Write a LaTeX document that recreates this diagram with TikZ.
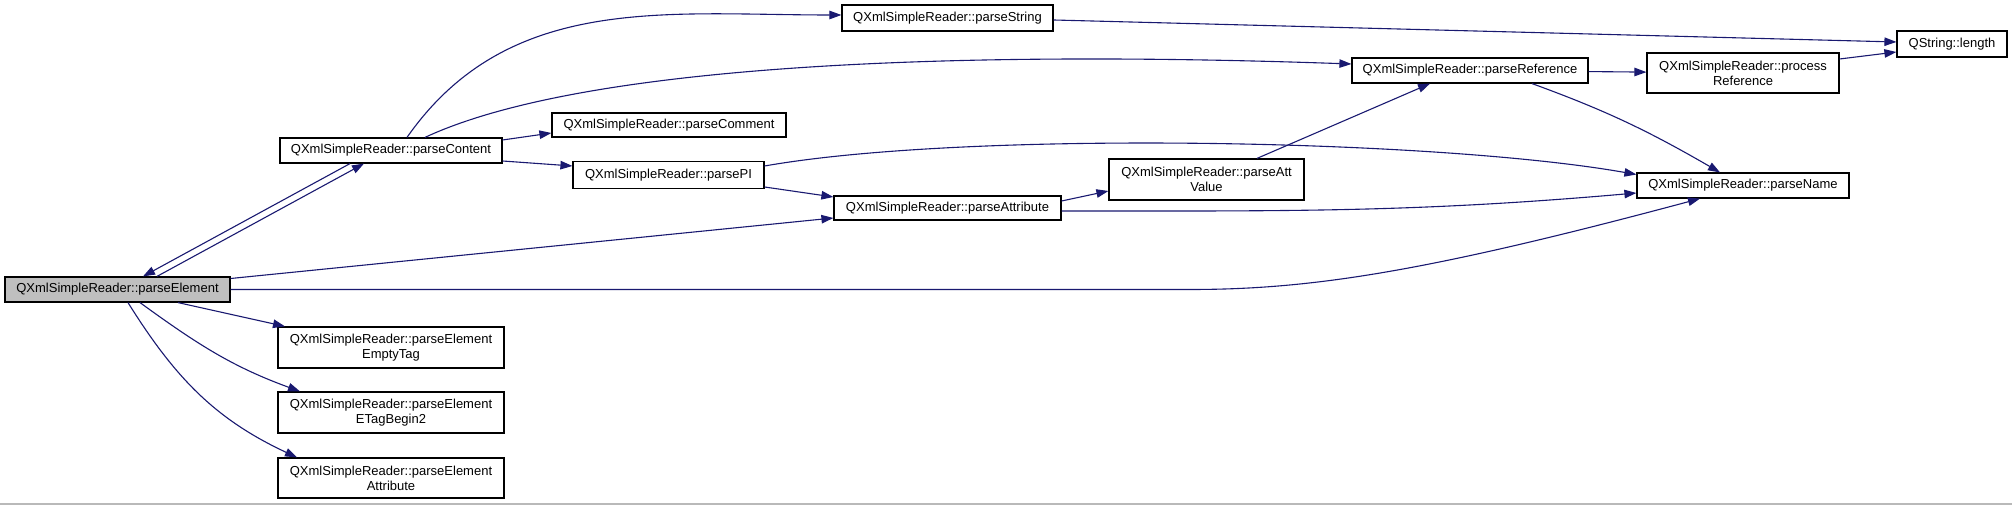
\documentclass[tikz,border=0pt]{standalone}
\usepackage{fontspec}
\setmainfont{Liberation Sans}
\usetikzlibrary{arrows.meta, positioning, calc}
\definecolor{callblue}{RGB}{25,25,112}
\definecolor{selgray}{RGB}{191,191,191}

\begin{document}
\begin{tikzpicture}[
    x=1pt, y=1pt,
    func/.style={rectangle, draw, line width=1.2pt, fill=white, inner sep=0pt, align=center, minimum height=25pt, font=\fontsize{13}{15}\selectfont},
    call/.style={-{Triangle[length=12pt, width=8.5pt]}, callblue, line width=1.1pt}
]
    \useasboundingbox (0,0) rectangle (2012,505);

    % Caller
    \node[func, fill=selgray, minimum width=225pt] (elem) at (117.5, 215.5) {QXmlSimpleReader::parseElement};

    % First level
    \node[func, minimum width=222pt] (content) at (391, 354.5) {QXmlSimpleReader::parseContent};
    \node[func, minimum width=226pt, minimum height=41pt] (emptytag) at (391, 157.5) {QXmlSimpleReader::parseElement\\EmptyTag};
    \node[func, minimum width=226pt, minimum height=41pt] (etag) at (391, 92.5) {QXmlSimpleReader::parseElement\\ETagBegin2};
    \node[func, minimum width=226pt, minimum height=40pt] (elemattr) at (391, 27) {QXmlSimpleReader::parseElement\\Attribute};

    % Second level
    \node[func, minimum width=211pt, minimum height=26pt] (string) at (947.5, 487) {QXmlSimpleReader::parseString};
    \node[func, minimum width=234pt, minimum height=24pt] (comment) at (669, 380) {QXmlSimpleReader::parseComment};
    \node[func, minimum width=191pt, minimum height=27pt] (pi) at (668.5, 330) {QXmlSimpleReader::parsePI};
    \node[func, minimum width=227pt, minimum height=24pt] (attr) at (947.5, 297) {QXmlSimpleReader::parseAttribute};

    % Third level
    \node[func, minimum width=195pt, minimum height=41pt] (attvalue) at (1206.5, 325.5) {QXmlSimpleReader::parseAtt\\Value};
    \node[func, minimum width=236pt] (reference) at (1470, 434.5) {QXmlSimpleReader::parseReference};
    \node[func, minimum width=192pt, minimum height=40pt] (procref) at (1743, 432) {QXmlSimpleReader::process\\Reference};
    \node[func, minimum width=212pt] (name) at (1743, 319.5) {QXmlSimpleReader::parseName};
    \node[func, minimum width=110pt, minimum height=26pt] (length) at (1952, 461) {QString::length};

    % Calls from parseElement
    \draw[call] ([xshift=39.5pt]elem.north) -- ([xshift=-27pt]content.south);
    \draw[call] ([xshift=-41pt]content.south) -- ([xshift=25.5pt]elem.north);
    \draw[call] ([xshift=60.5pt]elem.south) -- ([xshift=-106pt]emptytag.north);
    \draw[call] ([xshift=22.5pt]elem.south) to[out=-36, in=160] ([xshift=-91pt]etag.north);
    \draw[call] ([xshift=10.5pt]elem.south) to[out=-58, in=155] ([xshift=-94pt]elemattr.north);
    \draw[call] ([yshift=11pt]elem.east) -- ([yshift=-10pt]attr.west);
    \draw[call] (elem.east) -- ++(960,0) to[out=0, in=195, out looseness=0.6, in looseness=1.4] ([xshift=-43pt]name.south);

    % Calls from parseContent
    \draw[call] ([xshift=16pt]content.north) to[out=55, in=180] ([yshift=3pt]string.west);
    \draw[call] ([xshift=34pt]content.north) to[out=25, in=178, looseness=0.6] ([yshift=6.5pt]reference.west);
    \draw[call] ([yshift=10.5pt]content.east) -- ([yshift=-8pt]comment.west);
    \draw[call] ([yshift=-10.5pt]content.east) -- ([yshift=9pt]pi.west);

    % Calls from parsePI and parseAttribute
    \draw[call] ([yshift=-12pt]pi.east) -- ([yshift=11pt]attr.west);
    \draw[call] ([yshift=9pt]pi.east) to[out=10, in=170, looseness=0.6] ([yshift=11pt]name.west);
    \draw[call] ([yshift=7pt]attr.east) -- ([yshift=-11.5pt]attvalue.west);
    \draw[call] ([yshift=-3pt]attr.east) to[out=0, in=185] ([yshift=-7.5pt]name.west);
    \draw[call] ([xshift=50.5pt]attvalue.north) -- ([xshift=-40pt]reference.south);

    % Calls to the right
    \draw[call] ([yshift=-2pt]string.east) -- ([yshift=2pt]length.west);
    \draw[call] (reference) -- (procref);
    \draw[call] ([xshift=62pt]reference.south) to[out=-20, in=150] ([xshift=-23pt]name.north);
    \draw[call] ([yshift=14pt]procref.east) -- ([yshift=-8pt]length.west);

    % Page edge
    \draw[gray!55, line width=1.3pt] (0,1) -- (2012,1);
\end{tikzpicture}
\end{document}
